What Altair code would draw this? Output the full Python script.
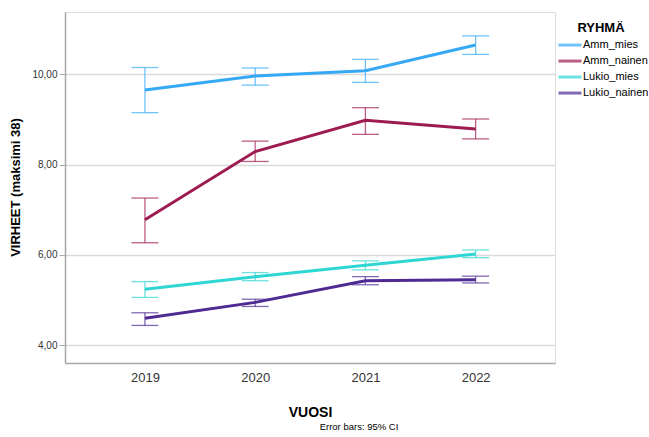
import altair as alt
import pandas as pd

# Mean errors per group and year, with 95% confidence limits
years = [2019, 2020, 2021, 2022]
groups = ["Amm_mies", "Amm_nainen", "Lukio_mies", "Lukio_nainen"]

amm_mies_mean = [9.65, 9.96, 10.08, 10.65]
amm_mies_lo = [9.15, 9.76, 9.82, 10.44]
amm_mies_hi = [10.15, 10.14, 10.33, 10.85]

amm_nainen_mean = [6.78, 8.29, 8.98, 8.79]
amm_nainen_lo = [6.27, 8.07, 8.67, 8.57]
amm_nainen_hi = [7.26, 8.52, 9.26, 9.01]

lukio_mies_mean = [5.24, 5.52, 5.77, 6.02]
lukio_mies_lo = [5.06, 5.43, 5.67, 5.94]
lukio_mies_hi = [5.41, 5.61, 5.87, 6.11]

lukio_nainen_mean = [4.60, 4.95, 5.43, 5.45]
lukio_nainen_lo = [4.44, 4.86, 5.34, 5.38]
lukio_nainen_hi = [4.72, 5.02, 5.52, 5.53]

colors = ["#36a9f6", "#9e1b52", "#2dd5d3", "#4f2a93"]

series = {
    "Amm_mies": (amm_mies_mean, amm_mies_lo, amm_mies_hi),
    "Amm_nainen": (amm_nainen_mean, amm_nainen_lo, amm_nainen_hi),
    "Lukio_mies": (lukio_mies_mean, lukio_mies_lo, lukio_mies_hi),
    "Lukio_nainen": (lukio_nainen_mean, lukio_nainen_lo, lukio_nainen_hi),
}

rows = []
for g in groups:
    m, lo, hi = series[g]
    for i, yr in enumerate(years):
        rows.append({"VUOSI": yr, "RYHMÄ": g, "mean": m[i], "lo": lo[i], "hi": hi[i]})
df = pd.DataFrame(rows)

FONT = "Liberation Sans, Arial, sans-serif"

x_scale = alt.Scale(domain=[2018.275, 2022.72], nice=False, zero=False)
y_scale = alt.Scale(domain=[3.608, 11.379], nice=False, zero=False)

color = alt.Color(
    "RYHMÄ:N",
    scale=alt.Scale(domain=groups, range=colors),
    legend=alt.Legend(
        title=None,
        orient="none",
        legendX=492,
        legendY=25.4,
        labelFont=FONT,
        labelFontSize=11,
        labelColor="#000",
        labelOffset=0,
        symbolType="stroke",
        symbolStrokeWidth=3,
        symbolSize=529,
        clipHeight=15.3,
        rowPadding=0,
        padding=0,
    ),
)

base = alt.Chart(df)

x_enc = alt.X(
    "VUOSI:Q",
    scale=x_scale,
    axis=alt.Axis(
        title="VUOSI",
        values=years,
        format="d",
        ticks=False,
        grid=False,
        domainColor="#a8a8a8",
        domainWidth=1.5,
        labelFont=FONT,
        labelFontSize=13,
        labelColor="#333",
        labelPadding=8,
        titleFont=FONT,
        titleFontSize=14,
        titleFontWeight="bold",
        titleColor="#000",
        titleBaseline="alphabetic",
        titleY=53,
    ),
)

y_enc = alt.Y(
    "mean:Q",
    scale=y_scale,
    axis=alt.Axis(
        title="VIRHEET (maksimi 38)",
        values=[4, 6, 8, 10],
        labelExpr="replace(format(datum.value, '.2f'), '.', ',')",
        grid=True,
        gridColor="#dadada",
        gridWidth=1.3,
        tickColor="#a8a8a8",
        tickSize=6,
        domainColor="#a8a8a8",
        domainWidth=1.5,
        labelFont=FONT,
        labelFontSize=10,
        labelColor="#333",
        labelPadding=2,
        titleFont=FONT,
        titleFontSize=13,
        titleFontWeight="bold",
        titleColor="#000",
        titleBaseline="middle",
        titleX=-50,
        titleY=175,
    ),
)

# Vertical whiskers of the confidence intervals
whisker = base.mark_rule(strokeWidth=1.3, opacity=0.7).encode(
    x=alt.X("VUOSI:Q", scale=x_scale),
    y=alt.Y("lo:Q", scale=y_scale),
    y2="hi:Q",
    color=color,
)

# Caps at both ends of each interval
cap_hi = base.mark_rule(strokeWidth=1.3, opacity=0.7, xOffset=-13.5, x2Offset=13.5).encode(
    x=alt.X("VUOSI:Q", scale=x_scale),
    x2="VUOSI:Q",
    y=alt.Y("hi:Q", scale=y_scale),
    color=color,
)
cap_lo = base.mark_rule(strokeWidth=1.3, opacity=0.7, xOffset=-13.5, x2Offset=13.5).encode(
    x=alt.X("VUOSI:Q", scale=x_scale),
    x2="VUOSI:Q",
    y=alt.Y("lo:Q", scale=y_scale),
    color=color,
)

lines = base.mark_line(strokeWidth=3).encode(
    x=x_enc,
    y=y_enc,
    color=color,
)

# Legend heading, centred above the legend entries
legend_title = alt.Chart(pd.DataFrame({"t": ["RYHMÄ"]})).mark_text(
    font=FONT, fontSize=13, fontWeight="bold", color="#000", align="center", baseline="alphabetic"
).encode(
    x=alt.value(536),
    y=alt.value(20),
    text="t:N",
)

note = alt.Chart(pd.DataFrame({"t": ["Error bars: 95% CI"]})).mark_text(
    font=FONT, fontSize=9.5, color="#000", align="center", baseline="alphabetic"
).encode(
    x=alt.value(294),
    y=alt.value(418),
    text="t:N",
)

chart = alt.layer(lines, whisker, cap_hi, cap_lo, legend_title, note).properties(
    width=490,
    height=351,
    autosize=alt.AutoSizeParams(type="none"),
    padding={"left": 65, "top": 12, "right": 94, "bottom": 74},
).configure_view(stroke=None).configure(background="white")

chart.save("out.html", embed_options={"renderer": "svg", "actions": False})
